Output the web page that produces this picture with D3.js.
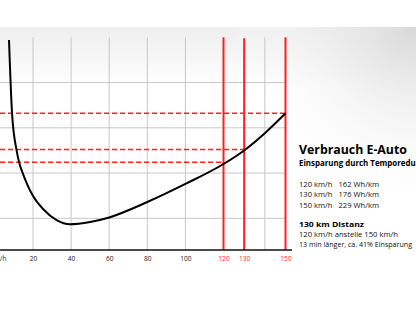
<!DOCTYPE html>
<html>
<head>
<meta charset="utf-8">
<script src="https://cdn.jsdelivr.net/npm/d3@7"></script>
<style>
  body { margin: 0; background: #fff; }
  svg { display: block; }
</style>
</head>
<body>
<svg id="chart" width="416" height="312"></svg>
<script>
// consumption curve (km/h, Wh/km)
const speeds = [7.4, 9, 11.4, 12.8, 14.6, 20.2, 25.4, 32.4, 39.4, 50, 60, 80, 100, 120, 130, 140, 150];
const consumption = [297, 216, 175, 161, 150, 124, 110, 98, 93.5, 96, 101, 118, 138, 160, 175, 194, 216];

// marked speeds and the level drawn for each
const markSpeeds = [120, 130, 150];
const markLevels = [162, 176, 216];

const xTicks = [20, 40, 60, 80, 100, 120, 130, 140, 150];
const xLabels = [20, 40, 60, 80, 100, 120, 130, 150];
const yTicks = [100, 150, 200, 250];

const title = 'Verbrauch E-Auto';
const subtitle = 'Einsparung durch Temporeduktion';
const rows = [
  ['120 km/h', '162 Wh/km'],
  ['130 km/h', '176 Wh/km'],
  ['150 km/h', '229 Wh/km'],
];
const distTitle = '130 km Distanz';
const distLines = ['120 km/h anstelle 150 km/h', '13 min länger, ca. 41% Einsparung'];

const svg = d3.select('#chart');
const font = '"Open Sans", Lato, sans-serif';
const red = '#ff1f1f';

// font size that makes a string take a given width
function fitSize(str, weight, width) {
  const t = svg.append('text')
    .attr('font-family', font).attr('font-weight', weight).attr('font-size', 10)
    .text(str);
  const w = t.node().getComputedTextLength();
  t.remove();
  return 10 * width / w;
}

// background shading
const defs = svg.append('defs');
const lin = defs.append('linearGradient').attr('id', 'bgLin')
  .attr('x1', 0).attr('y1', 0).attr('x2', 0).attr('y2', 1);
lin.append('stop').attr('offset', 0).attr('stop-color', '#eeeeee');
lin.append('stop').attr('offset', 1).attr('stop-color', '#ffffff');
const rad = defs.append('radialGradient').attr('id', 'bgRad')
  .attr('gradientUnits', 'userSpaceOnUse')
  .attr('cx', 416).attr('cy', 27).attr('r', 190);
rad.append('stop').attr('offset', 0).attr('stop-color', '#d8d8d8').attr('stop-opacity', 1);
rad.append('stop').attr('offset', 1).attr('stop-color', '#ffffff').attr('stop-opacity', 0);

svg.append('rect').attr('x', 0).attr('y', 27).attr('width', 416).attr('height', 60)
  .attr('fill', 'url(#bgLin)');
svg.append('rect').attr('x', 0).attr('y', 27).attr('width', 416).attr('height', 285)
  .attr('fill', 'url(#bgRad)');

const x = d3.scaleLinear().domain([20, 120, 150]).range([33, 223.5, 285.5]);
const y = d3.scaleLinear().domain([65, 300]).range([250, 37.3]);

// grid
const grid = svg.append('g');
grid.selectAll('.hgrid')
  .data(yTicks)
  .enter()
  .append('line')
  .attr('x1', 0)
  .attr('x2', x(150))
  .attr('y1', d => y(d))
  .attr('y2', d => y(d))
  .attr('stroke', '#c6c6c6')
  .attr('stroke-width', 1);

grid.selectAll('.vgrid')
  .data(xTicks.filter(d => !markSpeeds.includes(d)))
  .enter()
  .append('line')
  .attr('x1', d => x(d))
  .attr('x2', d => x(d))
  .attr('y1', y(300))
  .attr('y2', y(65))
  .attr('stroke', '#c6c6c6')
  .attr('stroke-width', 1);

// dashed levels
svg.append('g').selectAll('line')
  .data(markSpeeds)
  .enter()
  .append('line')
  .attr('x1', 0)
  .attr('x2', d => x(d))
  .attr('y1', (d, i) => y(markLevels[i]))
  .attr('y2', (d, i) => y(markLevels[i]))
  .attr('stroke', red)
  .attr('stroke-width', 1.5)
  .attr('stroke-dasharray', '5,3');

// red speed markers
svg.append('g').selectAll('line')
  .data(markSpeeds)
  .enter()
  .append('line')
  .attr('x1', d => x(d))
  .attr('x2', d => x(d))
  .attr('y1', d => (d === 130 ? y(299) : y(300)))
  .attr('y2', y(65))
  .attr('stroke', red)
  .attr('stroke-width', 2);

// x axis
const tickSize = fitSize('100', 'normal', 11.3);
const xAxis = svg.append('g').attr('transform', `translate(0,${y(65)})`)
  .call(d3.axisBottom(x).tickValues(xLabels).tickSize(0).tickPadding(6));
xAxis.select('.domain').remove();
xAxis.selectAll('text')
  .attr('font-family', font)
  .attr('font-size', tickSize)
  .attr('fill', d => (markSpeeds.includes(d) ? red : '#222'));
svg.append('line')
  .attr('x1', 0).attr('x2', 292)
  .attr('y1', y(65)).attr('y2', y(65))
  .attr('stroke', '#111').attr('stroke-width', 1.5);
svg.append('text')
  .attr('x', 6.5).attr('y', y(65) + 11)
  .attr('text-anchor', 'end')
  .attr('font-family', font).attr('font-size', tickSize).attr('fill', '#222')
  .text('km/h');

// curve
const pts = speeds.map((s, i) => [s, consumption[i]]);
svg.append('path')
  .datum(pts)
  .attr('fill', 'none')
  .attr('stroke', '#000')
  .attr('stroke-width', 2)
  .attr('d', d3.line().x(d => x(d[0])).y(d => y(d[1])).curve(d3.curveMonotoneX));

// text block
const tx = 299;
svg.append('text').attr('x', tx).attr('y', 154)
  .attr('font-family', font).attr('font-weight', 'bold')
  .attr('font-size', fitSize(title, 'bold', 108)).attr('fill', '#000')
  .text(title);
svg.append('text').attr('x', tx).attr('y', 165.5)
  .attr('font-family', font).attr('font-weight', 'bold')
  .attr('font-size', fitSize('Einsparung durch Temporedu', 'bold', 117)).attr('fill', '#000')
  .text(subtitle);

// body text: a bit taller than its width allows, squeezed to the reference width
const bodySize = 7.8;
function bodyText(str, xPos, yPos, width, weight) {
  svg.append('text')
    .attr('x', xPos).attr('y', yPos)
    .attr('font-family', font).attr('font-size', bodySize)
    .attr('font-weight', weight || 'normal')
    .attr('fill', weight ? '#000' : '#111')
    .attr('textLength', width)
    .attr('lengthAdjust', 'spacingAndGlyphs')
    .text(str);
}
rows.forEach((r, i) => {
  bodyText(r[0], tx, 186.5 + i * 10.7, 33.5);
  bodyText(r[1], 338.5, 186.5 + i * 10.7, 40.5);
});
bodyText(distTitle, tx, 226.5, 65, 'bold');
bodyText(distLines[0], tx, 236.5, 99);
bodyText(distLines[1], tx, 246.5, 113);
</script>
</body>
</html>
